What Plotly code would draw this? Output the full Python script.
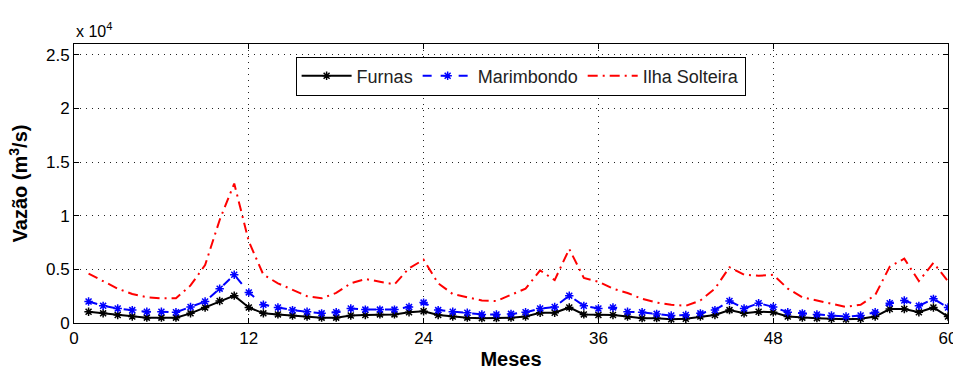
import plotly.graph_objects as go

# Monthly mean inflow (m3/s) at three hydro plants over 60 months
meses = list(range(1, 61))

furnas = [1050, 900, 750, 600, 500, 500, 500, 900, 1450, 2050,
          2550, 1450, 900, 800, 700, 600, 500, 500, 700, 750,
          800, 800, 1000, 1100, 750, 600, 500, 450, 450, 500,
          600, 950, 950, 1450, 800, 750, 750, 600, 450, 450,
          350, 400, 600, 750, 1200, 900, 1050, 1000, 600, 500,
          450, 400, 350, 400, 600, 1300, 1300, 1000, 1450, 600]

marimbondo = [2000, 1600, 1350, 1200, 1050, 1050, 1000, 1500, 2000, 3200,
              4500, 2850, 1700, 1450, 1200, 1050, 900, 1000, 1350, 1250,
              1250, 1250, 1500, 1900, 1200, 1050, 950, 800, 800, 850,
              1000, 1350, 1500, 2550, 1600, 1350, 1450, 1050, 1000, 850,
              700, 750, 900, 1200, 2050, 1350, 1850, 1500, 1000, 900,
              800, 700, 600, 700, 1000, 1850, 2100, 1600, 2250, 1450]

ilha_solteira = [4600, 3900, 3200, 2700, 2400, 2300, 2300, 3500, 5400, 9600,
                 13000, 7600, 4500, 3700, 3100, 2500, 2300, 2800, 3700, 4100,
                 3850, 3600, 5100, 5900, 3700, 2700, 2400, 2100, 2050, 2650,
                 3200, 4900, 4000, 6900, 4200, 3850, 3200, 2800, 2250, 1900,
                 1700, 1600, 2100, 3200, 5200, 4500, 4400, 4500, 3200, 2400,
                 2100, 1750, 1500, 1700, 2600, 5250, 6000, 3900, 5600, 3900]

x_ticks = [0, 12, 24, 36, 48, 60]
y_ticks = [0, 5000, 10000, 15000, 20000, 25000]
y_tick_text = ["0", "0.5", "1", "1.5", "2", "2.5"]

TICK_FONT = "Liberation Sans Narrow, Liberation Sans, Arial, sans-serif"
TEXT_FONT = "Liberation Sans, Arial, sans-serif"

fig = go.Figure()

fig.add_trace(go.Scatter(
    x=meses, y=furnas, name="Furnas", mode="lines+markers",
    line=dict(color="black", width=2),
    marker=dict(symbol="asterisk-open", size=7, color="black",
                line=dict(color="black", width=1.5)),
))
fig.add_trace(go.Scatter(
    x=meses, y=marimbondo, name="Marimbondo", mode="lines+markers",
    line=dict(color="#0000ff", width=2, dash="dash"),
    marker=dict(symbol="asterisk-open", size=7, color="#0000ff",
                line=dict(color="#0000ff", width=1.5)),
))
fig.add_trace(go.Scatter(
    x=meses, y=ilha_solteira, name="Ilha Solteira", mode="lines",
    line=dict(color="#ff0000", width=2, dash="10px,5px,2px,5px"),
))

axis_common = dict(
    showline=True, linecolor="black", linewidth=1, mirror="ticks",
    ticks="inside", ticklen=5, tickcolor="black",
    showgrid=True, gridcolor="#222222", griddash="1px,5px", gridwidth=1,
    zeroline=False, ticklabeloverflow="allow", automargin=False,
    tickfont=dict(family=TICK_FONT, size=17, color="black"),
)

fig.update_xaxes(
    range=[0, 60], tickvals=x_ticks,
    title=dict(text="<b>Meses</b>", font=dict(family=TEXT_FONT, size=20, color="black"),
               standoff=4),
    **axis_common,
)
fig.update_yaxes(
    range=[0, 26000], tickvals=y_ticks, ticktext=y_tick_text,
    title=dict(text="<b>Vazão (m<sup>3</sup>/s)</b>",
               font=dict(family=TEXT_FONT, size=20, color="black"),
               standoff=12),
    **axis_common,
)

fig.add_annotation(
    xref="paper", yref="paper", x=0.0, y=1.0, xanchor="left", yanchor="bottom",
    yshift=2, showarrow=False,
    text="x 10<sup>4</sup>",
    font=dict(family=TICK_FONT, size=16, color="black"),
)

fig.update_layout(
    width=953, height=370,
    margin=dict(l=74, r=5, t=44, b=47),
    paper_bgcolor="white", plot_bgcolor="white",
    legend=dict(
        orientation="h", x=0.511, y=0.955, xanchor="center", yanchor="top",
        bgcolor="white", bordercolor="black", borderwidth=1,
        font=dict(family=TEXT_FONT, size=18, color="#222222"),
        itemwidth=50,
    ),
    showlegend=True,
)

fig.write_html("out.html")
